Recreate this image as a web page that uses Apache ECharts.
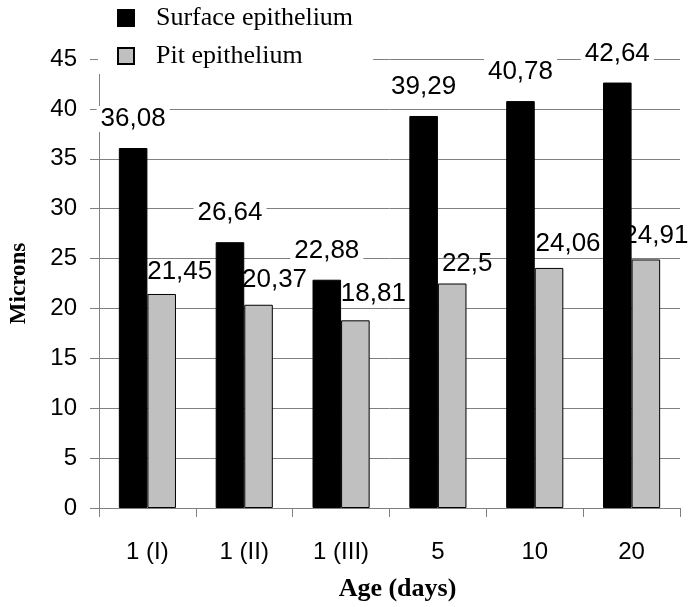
<!DOCTYPE html>
<html>
<head>
<meta charset="utf-8">
<script src="https://cdn.jsdelivr.net/npm/echarts@6/dist/echarts.min.js"></script>
<style>
    html, body { margin: 0; padding: 0; background: #fff; }
    #chart { width: 698px; height: 607px; }
</style>
</head>
<body>
<div id="chart"></div>
<script>
// values
const categories = ['1 (I)', '1 (II)', '1 (III)', '5', '10', '20'];
const legends = ['Surface epithelium', 'Pit epithelium'];
const surfaceValues = [36.08, 26.64, 22.88, 39.29, 40.78, 42.64];
const pitValues = [21.45, 20.37, 18.81, 22.5, 24.06, 24.91];
const yMin = 0;
const yMax = 45;
const yInterval = 5;

// the pit labels sit a little to the right of their bars
const pitLabelOffsets = [[18, 2], [16, -1], [18, -2], [15, 4], [19, 0], [10, 0]];

const sansFont = '"Liberation Sans", Arial, sans-serif';
const serifFont = '"Liberation Serif", "Times New Roman", serif';

function commaDecimal(params) {
    return String(params.value).replace('.', ',');
}

function drawChart(element) {
    const labelBase = {
        show: true,
        position: 'top',
        fontFamily: sansFont,
        fontSize: 26,
        lineHeight: 26,
        color: '#000',
        formatter: commaDecimal
    };

    const surfaceSeries = {
        name: legends[0],
        type: 'bar',
        barGap: '0%',
        barCategoryGap: '41%',
        itemStyle: { color: '#000', borderColor: '#000', borderWidth: 1 },
        label: Object.assign({}, labelBase, {
            distance: 16,
            backgroundColor: '#fff',
            padding: [0, 4]
        }),
        data: surfaceValues
    };

    const pitSeries = {
        name: legends[1],
        type: 'bar',
        barGap: '0%',
        barCategoryGap: '41%',
        itemStyle: { color: '#c0c0c0', borderColor: '#000', borderWidth: 1 },
        label: Object.assign({}, labelBase, { distance: 11 }),
        data: pitValues.map((v, i) => ({
            value: v,
            label: { offset: pitLabelOffsets[i] }
        }))
    };

    const option = {
        animation: false,
        backgroundColor: '#fff',
        legend: {
            orient: 'vertical',
            left: 98,
            top: 0,
            padding: [5, 20, 5, 19],
            backgroundColor: '#fff',
            itemWidth: 16,
            itemHeight: 16,
            itemGap: 12,
            icon: 'rect',
            textStyle: {
                fontFamily: serifFont,
                fontSize: 26,
                lineHeight: 26,
                color: '#000',
                padding: [0, 0, 0, 17]
            },
            data: legends
        },
        grid: { left: 97, right: 18, top: 59, bottom: 95 },
        xAxis: {
            type: 'category',
            data: categories,
            axisLine: { show: true, lineStyle: { color: '#808080', width: 1 } },
            axisTick: { show: true, length: 9, lineStyle: { color: '#808080' } },
            axisLabel: { margin: 32, fontFamily: sansFont, fontSize: 24, color: '#000' },
            name: 'Age (days)',
            nameLocation: 'middle',
            nameGap: 68,
            nameTextStyle: {
                fontFamily: serifFont,
                fontWeight: 'bold',
                fontSize: 26,
                color: '#000',
                padding: [0, 0, 0, 16]
            }
        },
        yAxis: {
            type: 'value',
            min: yMin,
            max: yMax,
            interval: yInterval,
            axisLine: { show: true, lineStyle: { color: '#808080', width: 1 } },
            axisTick: { show: true, length: 9, lineStyle: { color: '#808080' } },
            axisLabel: { margin: 22, fontFamily: sansFont, fontSize: 24, color: '#000' },
            splitLine: { show: true, lineStyle: { color: '#808080', width: 1 } },
            name: 'Microns',
            nameLocation: 'middle',
            nameGap: 68,
            nameTextStyle: {
                fontFamily: serifFont,
                fontWeight: 'bold',
                fontSize: 23,
                color: '#000'
            }
        },
        series: [surfaceSeries, pitSeries]
    };

    echarts.init(element, null, { renderer: 'canvas' }).setOption(option);
}

drawChart(document.getElementById('chart'));
</script>
</body>
</html>
